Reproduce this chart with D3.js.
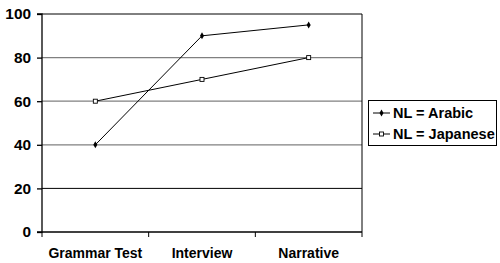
<!DOCTYPE html>
<html><head><meta charset="utf-8">
<script src="https://cdn.jsdelivr.net/npm/d3@7"></script>
<style>body{margin:0;background:#fff}text{font-family:Arial,"Liberation Sans",sans-serif;font-weight:bold;fill:#000}</style>
</head><body><svg id="c" width="500" height="263"></svg>
<script>
const categories = ["Grammar Test", "Interview", "Narrative"];
const arabic = [40, 90, 95];
const japanese = [60, 70, 80];
const yTicks = [0, 20, 40, 60, 80, 100];
const seriesNames = ["NL = Arabic", "NL = Japanese"];

const svg = d3.select("#c");
const L = 42, R = 362, T = 14, B = 232;
const x = d3.scaleBand().domain(categories).range([L, R]);
const y = d3.scaleLinear().domain([0, 100]).range([B, T]);

// gridlines
svg.append("g").selectAll("line").data(yTicks.filter(d => d > 0 && d < 100)).join("line")
  .attr("x1", L).attr("x2", R).attr("y1", d => y(d)).attr("y2", d => y(d))
  .attr("stroke", d => d === 20 ? "#000" : "#808080").attr("stroke-width", d => d === 20 ? 1 : 1.3);
// frame top/right
svg.append("path").attr("d", `M${L},${y(100)}H${R}V${B}`).attr("fill", "none").attr("stroke", "#000").attr("stroke-width", 1);

// y axis
const ya = svg.append("g").attr("transform", `translate(${L},0)`)
  .call(d3.axisLeft(y).tickValues(yTicks).tickSize(5).tickPadding(5));
ya.select(".domain").attr("stroke", "#000").attr("stroke-width", 1.3).attr("d", `M-5,${y(100)}H0V${B}H-5`);
ya.selectAll("text").style("font-size", "14px").attr("dy", "0.35em").attr("transform", "scale(1.1,1)");
ya.selectAll(".tick line").attr("stroke-width", 1.3);

// x axis
const xa = svg.append("g").attr("transform", `translate(0,${B})`)
  .call(d3.axisBottom(x).tickSize(0).tickPadding(16));
xa.select(".domain").attr("stroke", "#000").attr("stroke-width", 1.3).attr("d", `M${L},0H${R}`);
xa.selectAll("text").style("font-size", "14px");
svg.append("g").selectAll("line").data(d3.range(categories.length + 1)).join("line")
  .attr("x1", i => L + i * x.step()).attr("x2", i => L + i * x.step())
  .attr("y1", B).attr("y2", B + 5).attr("stroke", "#000").attr("stroke-width", 1);

const cx = d => x(d) + x.bandwidth() / 2;
const line = d3.line().x((d, i) => cx(categories[i])).y(d => y(d));

function drawSeries(vals, open) {
  svg.append("path").attr("d", line(vals)).attr("fill", "none").attr("stroke", "#000").attr("stroke-width", 1);
  const g = svg.append("g");
  vals.forEach((v, i) => {
    if (open) g.append("rect").attr("x", cx(categories[i]) - 2).attr("y", y(v) - 2).attr("width", 4).attr("height", 4)
      .attr("fill", "#fff").attr("stroke", "#000").attr("stroke-width", 0.9);
    else g.append("path").attr("d", d3.symbol(d3.symbolDiamond, 14)()).attr("transform", `translate(${cx(categories[i])},${y(v)})`).attr("fill", "#000");
  });
}
drawSeries(arabic, false);
drawSeries(japanese, true);

// legend
const lg = svg.append("g");
lg.append("rect").attr("x", 368.5).attr("y", 100.5).attr("width", 128).attr("height", 45).attr("fill", "#fff").attr("stroke", "#000");
seriesNames.forEach((n, i) => {
  const yy = 113 + i * 21;
  lg.append("line").attr("x1", 373).attr("x2", 390).attr("y1", yy).attr("y2", yy).attr("stroke", "#000");
  if (i === 0) lg.append("path").attr("d", d3.symbol(d3.symbolDiamond, 14)()).attr("transform", `translate(381.5,${yy})`);
  else lg.append("rect").attr("x", 379.5).attr("y", yy - 2).attr("width", 4).attr("height", 4).attr("fill", "#fff").attr("stroke", "#000").attr("stroke-width", 0.9);
  lg.append("text").attr("x", 393).attr("y", yy).attr("dy", "0.36em").style("font-size", "14.5px").text(n);
});
</script></body></html>
